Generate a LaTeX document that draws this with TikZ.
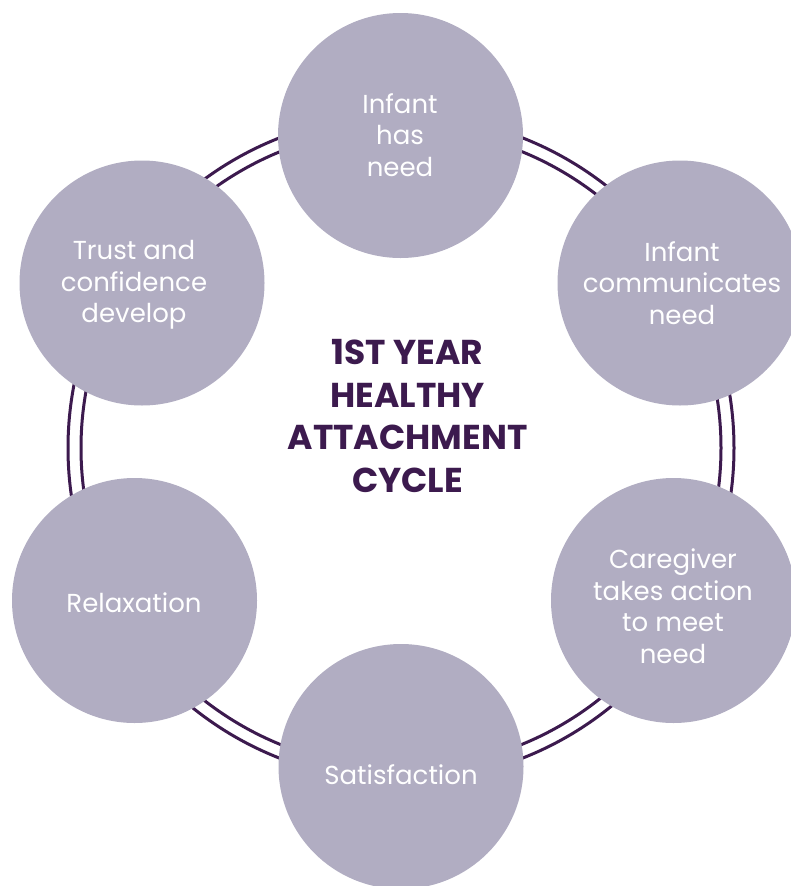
\documentclass[tikz,border=0pt]{standalone}
\usepackage{fontspec}
\setmainfont{Poppins}
\definecolor{ringpurple}{RGB}{60,26,78}
\definecolor{stepfill}{RGB}{177,173,194}
\begin{document}
\begin{tikzpicture}[x=1pt,y=-1pt,
  stage/.style={circle,fill=stepfill,draw=none,minimum size=245pt,inner sep=0pt},
  stagetext/.style={text=white,align=center,font=\fontsize{26}{31.5}\selectfont,inner sep=0pt},
  ring/.style={draw=ringpurple,line width=3pt}]
\useasboundingbox (0,0) rectangle (791,886);

% double ring behind the stages
\draw[ring] (401,448) circle[radius=333];
\draw[ring] (401,448) circle[radius=320];

% stages of the cycle
\node[stage] (need)    at (400.5,135.5) {};
\node[stage] (comm)    at (680,283)     {};
\node[stage] (action)  at (673.5,600.5) {};
\node[stage] (satis)   at (401,766.5)   {};
\node[stage] (relax)   at (134.5,600.5) {};
\node[stage] (trust)   at (142,283)     {};

\node[stagetext] (needT)   at (400,135)   {Infant\\has\\need};
\node[stagetext] (commT)   at (682,283)   {Infant\\communicates\\need};
\node[stagetext] (actionT) at (673,606)   {Caregiver\\takes action\\to meet\\need};
\node[stagetext] (satisT)  at (401,775)   {Satisfaction};
\node[stagetext] (relaxT)  at (134,603)   {Relaxation};
\node[stagetext] (trustT)  at (134,285)   {Trust and\\confidence\\develop};

% title in the middle
\node[text=ringpurple,align=center,inner sep=0pt,
      font=\fontsize{34.5}{42.5}\selectfont\bfseries] (title) at (407.5,416)
  {1ST YEAR\\HEALTHY\\ATTACHMENT\\CYCLE};
\end{tikzpicture}
\end{document}
